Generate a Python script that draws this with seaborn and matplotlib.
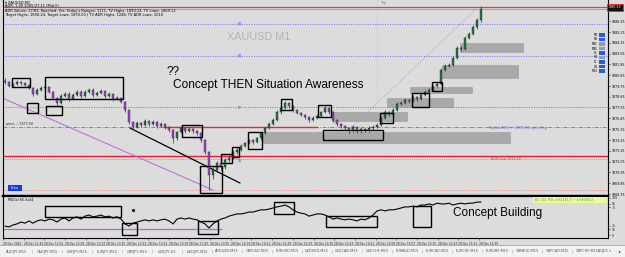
import numpy as np
import pandas as pd
import matplotlib
matplotlib.use("Agg")
import matplotlib.pyplot as plt
from matplotlib.patches import Rectangle
import seaborn as sns

# ---------------- data ----------------
opens = [1880.30, 1880.16, 1879.75, 1879.95, 1880.16, 1880.06, 1879.85, 1879.55, 1878.94, 1879.34,
         1879.55, 1879.65, 1879.14, 1878.53, 1878.02, 1878.73, 1878.94, 1878.43, 1878.83, 1879.14,
         1878.73, 1879.14, 1879.34, 1878.83, 1879.04, 1879.24, 1878.73, 1878.94, 1878.43, 1878.53,
         1878.12, 1877.31, 1876.08, 1875.57, 1875.98, 1875.78, 1876.19, 1875.88, 1876.08, 1875.68,
         1875.88, 1875.57, 1875.27, 1874.45, 1875.07, 1875.47, 1875.17, 1875.37, 1875.17, 1874.96,
         1874.25, 1873.03, 1870.69, 1871.19, 1871.91, 1871.50, 1872.21, 1872.42, 1873.03, 1873.23,
         1873.64, 1873.94, 1874.25, 1874.05, 1874.45, 1874.96, 1875.47, 1875.88, 1876.29, 1877.10,
         1877.51, 1878.02, 1877.71, 1877.31, 1877.00, 1876.80, 1876.59, 1876.29, 1876.49, 1876.70,
         1877.10, 1877.51, 1877.10, 1876.29, 1875.88, 1875.68, 1875.47, 1875.27, 1875.57, 1875.17,
         1875.37, 1875.27, 1875.47, 1875.57, 1875.78, 1876.49, 1877.10, 1876.90, 1877.31, 1877.92,
         1878.02, 1878.32, 1878.22, 1878.63, 1878.43, 1878.83, 1879.14, 1879.34, 1879.75, 1879.95,
         1881.38, 1881.79, 1881.89, 1882.60, 1883.62, 1883.52, 1884.64, 1885.05, 1885.76, 1886.47]
closes = [1880.16, 1879.75, 1879.95, 1880.16, 1880.06, 1879.85, 1879.55, 1878.94, 1879.34, 1879.55,
          1879.65, 1879.14, 1878.53, 1878.02, 1878.73, 1878.94, 1878.43, 1878.83, 1879.14, 1878.73,
          1879.14, 1879.34, 1878.83, 1879.04, 1879.24, 1878.73, 1878.94, 1878.43, 1878.53, 1878.12,
          1877.31, 1876.08, 1875.57, 1875.98, 1875.78, 1876.19, 1875.88, 1876.08, 1875.68, 1875.88,
          1875.57, 1875.27, 1874.45, 1875.07, 1875.47, 1875.17, 1875.37, 1875.17, 1874.96, 1874.25,
          1873.03, 1870.69, 1871.19, 1871.91, 1871.50, 1872.21, 1872.42, 1873.03, 1873.23, 1873.64,
          1873.94, 1874.25, 1874.05, 1874.45, 1874.96, 1875.47, 1875.88, 1876.29, 1877.10, 1877.51,
          1878.02, 1877.71, 1877.31, 1877.00, 1876.80, 1876.59, 1876.29, 1876.49, 1876.70, 1877.10,
          1877.51, 1877.10, 1876.29, 1875.88, 1875.68, 1875.47, 1875.27, 1875.57, 1875.17, 1875.37,
          1875.27, 1875.47, 1875.57, 1875.78, 1876.49, 1877.10, 1876.90, 1877.31, 1877.92, 1878.02,
          1878.32, 1878.22, 1878.63, 1878.43, 1878.83, 1879.14, 1879.34, 1879.75, 1879.95, 1881.38,
          1881.79, 1881.89, 1882.60, 1883.62, 1883.52, 1884.64, 1885.05, 1885.76, 1886.47, 1887.59]
highs = [1880.55, 1880.30, 1880.10, 1880.40, 1880.30, 1880.20, 1880.00, 1879.65, 1879.50, 1879.75,
         1879.85, 1879.80, 1879.25, 1878.65, 1878.90, 1879.15, 1879.10, 1879.00, 1879.35, 1879.30,
         1879.30, 1879.55, 1879.50, 1879.20, 1879.45, 1879.35, 1879.10, 1879.05, 1878.70, 1878.65,
         1878.20, 1877.40, 1876.20, 1876.15, 1876.10, 1876.40, 1876.30, 1876.25, 1876.20, 1876.05,
         1876.00, 1875.70, 1875.40, 1875.20, 1875.65, 1875.60, 1875.55, 1875.50, 1875.30, 1875.05,
         1874.35, 1873.10, 1871.60, 1872.10, 1872.10, 1872.40, 1872.70, 1873.20, 1873.45, 1873.80,
         1874.10, 1874.40, 1874.40, 1874.60, 1875.10, 1875.60, 1876.05, 1876.45, 1877.30, 1877.70,
         1878.20, 1878.15, 1877.85, 1877.45, 1877.15, 1876.95, 1876.70, 1876.65, 1876.85, 1877.25,
         1877.75, 1877.65, 1877.20, 1876.40, 1876.00, 1875.80, 1875.60, 1875.75, 1875.70, 1875.55,
         1875.50, 1875.65, 1875.75, 1875.95, 1876.70, 1877.30, 1877.25, 1877.50, 1878.10, 1878.25,
         1878.50, 1878.45, 1878.80, 1878.75, 1879.00, 1879.30, 1879.50, 1879.90, 1880.15, 1881.60,
         1881.95, 1882.05, 1882.80, 1883.80, 1883.80, 1884.80, 1885.25, 1885.95, 1886.70, 1887.85]
lows = [1879.95, 1879.60, 1879.60, 1879.85, 1879.90, 1879.70, 1879.40, 1878.70, 1878.80, 1879.20,
        1879.40, 1879.00, 1878.35, 1877.75, 1877.90, 1878.60, 1878.25, 1878.30, 1878.70, 1878.55,
        1878.60, 1879.00, 1878.65, 1878.70, 1878.90, 1878.55, 1878.60, 1878.25, 1878.30, 1878.00,
        1877.10, 1875.90, 1875.40, 1875.45, 1875.60, 1875.70, 1875.70, 1875.75, 1875.50, 1875.55,
        1875.40, 1875.05, 1873.95, 1874.30, 1874.95, 1875.00, 1875.05, 1875.00, 1874.80, 1874.05,
        1872.80, 1869.20, 1870.30, 1871.00, 1871.20, 1871.30, 1872.00, 1872.30, 1872.85, 1873.10,
        1873.50, 1873.80, 1873.85, 1873.90, 1874.30, 1874.85, 1875.35, 1875.75, 1876.15, 1876.95,
        1877.40, 1877.55, 1877.15, 1876.85, 1876.65, 1876.40, 1876.10, 1876.15, 1876.35, 1876.60,
        1877.00, 1876.95, 1876.10, 1875.70, 1875.50, 1875.30, 1875.00, 1875.10, 1874.95, 1875.00,
        1875.05, 1875.10, 1875.30, 1875.45, 1875.65, 1876.35, 1876.70, 1876.75, 1877.20, 1877.80,
        1877.90, 1878.05, 1878.10, 1878.25, 1878.30, 1878.70, 1879.00, 1879.20, 1879.60, 1879.85,
        1881.25, 1881.65, 1881.75, 1882.50, 1883.30, 1883.40, 1884.50, 1884.90, 1885.60, 1886.30]
oscillator = [24, 22, 27, 30, 35, 32, 38, 32, 38, 41,
              38, 43, 41, 35, 43, 46, 38, 46, 49, 43,
              51, 54, 49, 51, 54, 49, 51, 46, 49, 43,
              30, 24, 32, 35, 38, 41, 38, 41, 38, 41,
              43, 38, 30, 43, 46, 43, 46, 43, 41, 35,
              30, 19, 30, 38, 43, 46, 51, 54, 57, 57,
              59, 62, 62, 65, 68, 68, 70, 73, 76, 78,
              81, 76, 68, 62, 59, 57, 51, 54, 57, 57,
              54, 49, 43, 46, 43, 41, 43, 41, 38, 43,
              41, 46, 54, 65, 68, 65, 68, 68, 70, 73,
              76, 76, 78, 76, 81, 81, 84, 81, 86, 84,
              84, 86, 81, 84, 86, 84, 86, 86, 89, 89]

price_ticks = [1868.75, 1869.85, 1870.95, 1872.05, 1873.15, 1874.25, 1875.35, 1876.45, 1877.55,
               1878.65, 1879.75, 1880.85, 1881.95, 1883.05, 1884.15, 1885.25, 1886.35]
osc_ticks = [0, 15, 25, 75, 85, 100]
time_labels = ["28 Dec 2020", "28 Dec 12:43", "28 Dec 12:51", "28 Dec 12:59", "28 Dec 13:07",
               "28 Dec 13:15", "28 Dec 13:23", "28 Dec 13:31", "28 Dec 13:39", "28 Dec 13:47",
               "28 Dec 13:55", "28 Dec 14:03", "28 Dec 14:11", "28 Dec 14:19", "28 Dec 14:27",
               "28 Dec 14:35", "28 Dec 14:43", "28 Dec 14:51", "28 Dec 14:59", "28 Dec 15:07",
               "28 Dec 15:15", "28 Dec 15:23", "28 Dec 15:31", "28 Dec 15:39"]
tabs = ["AUDJPY,M15", "CADJPY,M15", "CHFJPY,M15", "EURJPY,M15", "GBPJPY,M15", "USDJPY,H1",
        "NZDJPY,M15", "AUDUSD,M15", "GBPUSD,M15", "EURUSD,M15", "NZDUSD,M15", "USDCAD,M15",
        "USDCHF,M15", "EURAUD,M15", "EURCAD,M15", "EURCHF,M15", "EURGBP,M15", "GBPAUD,M15",
        "GBPCAD,M15", "GBPCHF,M15"]
timeframes = ["M1", "M5", "M15", "M30", "H1", "H4", "D1", "W1", "MN1"]

# price levels
level_top = 1887.80
level_ask = 1887.59
level_r2 = 1886.06
level_r1 = 1882.81
level_pp = 1877.61
level_mid = 1875.57
level_s1 = 1872.62
level_adr_low = 1872.31
level_low = 1869.16
osc_level = 15

# zones (start idx, end idx, low, high)
zones = [(113.75, 129.5, 1883.21, 1884.13), (109.25, 128.25, 1880.57, 1881.89),
         (101.25, 116.75, 1879.04, 1879.65), (95.5, 112.0, 1877.61, 1878.53),
         (81.75, 100.5, 1876.19, 1877.10), (64.25, 126.25, 1873.94, 1875.07)]
boxes = [(1.75, 6.25, 1879.65, 1880.57), (5.5, 8.25, 1877.00, 1878.02), (10.0, 29.5, 1878.43, 1880.67),
         (10.25, 14.25, 1876.80, 1877.71), (44.25, 49.25, 1874.56, 1875.78), (48.75, 54.25, 1868.85, 1871.60),
         (54.0, 56.75, 1871.91, 1872.82), (56.75, 58.5, 1872.52, 1873.54), (60.75, 64.25, 1873.33, 1875.07),
         (69.0, 71.75, 1877.31, 1878.43), (78.25, 81.5, 1876.59, 1877.81), (79.5, 94.5, 1874.25, 1875.27),
         (93.75, 97.0, 1875.98, 1877.00), (101.75, 106.0, 1877.61, 1879.04), (106.75, 109.25, 1879.24, 1880.16)]
osc_boxes = [(10.0, 29.0, 48.6, 78.4), (29.25, 33.0, 0.0, 32.4), (48.25, 53.25, 2.7, 37.8),
             (67.25, 72.25, 56.8, 89.2), (80.25, 93.0, 21.6, 51.4), (102.0, 106.5, 21.6, 78.4)]

# ---------------- figure ----------------
sns.set_theme(style="white")
plt.rcParams['font.family'] = ['DejaVu Sans']
W, H = 625, 257
BG = "#dcdcdc"
fig = plt.figure(figsize=(W / 100, H / 100), dpi=100, facecolor=BG)


def frac(x0, y0, x1, y1):
    return [x0 / W, 1 - y1 / H, (x1 - x0) / W, (y1 - y0) / H]


def ptext(x, y, s, **kw):
    return fig.text(x / W, 1 - y / H, s, **kw)


ax = fig.add_axes(frac(3, 0, 608, 196))
axi = fig.add_axes(frac(3, 196, 608, 238), sharex=ax)
for a in (ax, axi):
    a.set_facecolor(BG)
    for s in a.spines.values():
        s.set_color("black")
        s.set_linewidth(0.8)

n = len(closes)
df = pd.DataFrame(dict(i=np.arange(n), o=opens, h=highs, l=lows, c=closes, osc=oscillator))
df["up"] = df.c >= df.o

# zones
for (i0, i1, p0, p1) in zones:
    ax.add_patch(Rectangle((i0, p0), i1 - i0, p1 - p0, fc="#a9a9a9", ec="#9c9c9c", lw=0.4, zorder=1))

# level lines
ax.axhline(level_top, color="#ff3030", lw=0.9, zorder=2)
ax.axhline(level_ask, color="#9aa6c0", lw=0.7, zorder=2)
ax.axhline(level_r2, color="#7070ff", lw=0.7, ls=(0, (1, 1.5)), zorder=2)
ax.axhline(level_r1, color="#7070ff", lw=0.7, ls=(0, (1, 1.5)), zorder=2)
ax.axhline(level_pp, color="#9c9c20", lw=0.8, ls=(0, (1, 1.2)), zorder=2)
ax.axhline(level_mid, color="#ff5050", lw=0.7, ls=(0, (4, 1.5, 1, 1.5)), zorder=2)
ax.hlines(level_mid, 39.5, 78.25, color="#ff2020", lw=1.0, zorder=2)
ax.axhline(level_s1, color="#e82030", lw=1.0, zorder=2)
ax.axhline(level_adr_low, color="#e08080", lw=0.7, ls=(0, (1, 1.2)), zorder=2)
ax.axhline(level_low, color="#e89090", lw=0.7, ls=(0, (1, 1.2)), zorder=2)

# diagonal lines
ax.plot([-1.25, 52.0], [1878.63, 1869.16], color="#c060e0", lw=0.7, zorder=2)
ax.plot([31.25, 58.75], [1875.47, 1869.87], color="black", lw=0.9, zorder=3)
ax.plot([86.75, 117.75], [1875.57, 1887.59], color="#98a0c8", lw=0.6, ls=(0, (1, 1.5)), zorder=2)
ax.plot([93, 93], [1888.5, 1878.3], color="#bcbcbc", lw=0.5, ls=(0, (1, 1.5)), zorder=1)
ax.scatter([86.75], [1875.57], s=3, fc="white", ec="#4060ff", lw=0.4, zorder=4)

# candles
green, purple = "#1e7a3e", "#a83ed8"
ax.vlines(df.i, df.l, df.h, color="#2a2a2a", lw=0.5, zorder=4)
ax.bar(df.i, (df.c - df.o).abs().clip(lower=0.03), bottom=np.minimum(df.o, df.c), width=0.62,
       color=np.where(df.up, green, purple), edgecolor="#1a1a1a", linewidth=0.25, zorder=5)

# boxes
for (i0, i1, p0, p1) in boxes:
    ax.add_patch(Rectangle((i0, p0), i1 - i0, p1 - p0, fill=False, ec="black", lw=1.0, zorder=6))

ax.set_xlim(-0.5, 150.75)
ax.set_ylim(1868.55, 1888.51)
ax.yaxis.tick_right()
ax.set_yticks(price_ticks)
ax.set_yticklabels([f"{v:.2f}" for v in price_ticks], fontsize=2.3)
ax.tick_params(axis="y", length=1.5, width=0.4, pad=1, colors="black")
ax.tick_params(axis="x", bottom=False, labelbottom=False)
ax.spines["top"].set_visible(False)
ax.spines["bottom"].set_linewidth(1.6)

# oscillator panel
sns.lineplot(data=df, x="i", y="osc", ax=axi, color="black", lw=0.8, zorder=3)
axi.hlines(osc_level, -1.25, 54.25, color="#c060e0", lw=0.9, zorder=2)
axi.scatter([32], [68], s=1.5, color="black", zorder=4)
for (i0, i1, v0, v1) in osc_boxes:
    axi.add_patch(Rectangle((i0, v0), i1 - i0, v1 - v0, fill=False, ec="black", lw=1.0, zorder=5))
axi.set_ylim(-8.1, 105.4)
axi.yaxis.tick_right()
axi.set_yticks(osc_ticks)
axi.set_yticklabels([str(v) for v in osc_ticks], fontsize=2.3)
axi.tick_params(axis="y", length=1.5, width=0.4, pad=1)
axi.set_ylabel("")
axi.set_xlabel("")
axi.spines["top"].set_linewidth(1.6)
tick_pos = [-0.5 + 5.175 * k for k in range(len(time_labels))]
axi.set_xticks(tick_pos)
axi.set_xticklabels(time_labels, fontsize=2.1, ha="left")
axi.tick_params(axis="x", length=1.5, width=0.4, pad=1.2, bottom=True)
axi.set_xlim(-0.5, 150.75)

# texts
ptext(5, 4, "\u25be XAUUSD,M1", fontsize=2.6, color="black", va="baseline")
ptext(5, 7.3, "ADR: 1.90 2005/27.11 (Mid 0)", fontsize=2.6, color="black", va="baseline")
ptext(5, 12, "ADR Values: 27/83, Reached: Yes, Today's Ranges: 1111, TV Highs: 1890.24, TV Lows: 1869.12",
      fontsize=2.6, color="black", va="baseline")
ptext(5, 16, "Target Highs: 1890.24, Target Lows: 1870.00 | TV ADR Highs: 1248, TV ADR Lows: 1010",
      fontsize=2.6, color="black", va="baseline")
ptext(259, 37, "XAUUSD M1", fontsize=7.8, color="#b4b4b4", ha="center", va="center",
      family=["Liberation Sans", "DejaVu Sans"])
ptext(167, 75, "??", fontsize=8.5, color="black", va="baseline", family=["Liberation Sans", "DejaVu Sans"])
ptext(173, 88, "Concept THEN Situation Awareness", fontsize=8.6, color="black", va="baseline",
      family=["Liberation Sans", "DejaVu Sans"])
ptext(453, 216, "Concept Building", fontsize=8.5, color="black", va="baseline",
      family=["Liberation Sans", "DejaVu Sans"])
for lbl, yy in (("R2", 24), ("R1", 56), ("PP", 108), ("S1", 161)):
    ptext(240, yy, lbl, fontsize=2.4, color="#5050d0", ha="center", va="center")
ptext(383, 3, "Trp", fontsize=2.4, color="#7070a0", ha="center", va="center")
ptext(6, 124, "prev(...) 1875.58", fontsize=2.3, color="#303030", va="center")
ptext(488, 128, "Tr-stab 60% \u2191: 1875.58, pdt Orig", fontsize=2.5, color="#8050d0", va="center")
ptext(491, 159, "ADR Low 1872.55", fontsize=2.4, color="#e04040", va="center")
ptext(8, 200, "MDI(x) 65.3x34", fontsize=2.3, color="black", va="center")

# Draw button
fig.add_artist(Rectangle((8 / W, 1 - 191 / H), 14 / W, 6 / H, transform=fig.transFigure,
                         fc="#1838f0", ec="none"))
ptext(15, 188, "Draw", fontsize=2.2, color="white", ha="center", va="center")

# timeframe buttons
blue_flags = [True, True, False, False, True, False, True, True, True]
for k, (tf, bl) in enumerate(zip(timeframes, blue_flags)):
    yy = 35 + 4.5 * k
    ptext(598, yy, tf, fontsize=2.0, color="black", ha="right", va="center")
    fig.add_artist(Rectangle((599 / W, 1 - (yy + 1.6) / H), 6 / W, 3.2 / H, transform=fig.transFigure,
                             fc="#2a5ce0" if bl else "#8c9cb8", ec="none"))

# current price tag
fig.add_artist(Rectangle((607 / W, 1 - 11 / H), 16 / W, 7 / H, transform=fig.transFigure,
                         fc="#111111", ec="#ff2020", lw=0.6))
ptext(615, 7.5, "1887.59", fontsize=2.2, color="white", ha="center", va="center")

# oscillator info label
fig.add_artist(Rectangle((533 / W, 1 - 202.5 / H), 74 / W, 5.5 / H, transform=fig.transFigure,
                         fc="#eef59a", ec="none", zorder=5))
ptext(535, 199.8, "EL: 1/3  R%: 3+1117.7 ~ 3+4035.3", fontsize=2.3, color="#40a040", va="center", zorder=6)

# tab bar
fig.add_artist(Rectangle((0, 0), 1, 11 / H, transform=fig.transFigure, fc="#f2f2f2", ec="none"))
fig.add_artist(Rectangle((0, 11 / H), 1, 0.6 / H, transform=fig.transFigure, fc="#b0b0b0", ec="none"))
for k, t in enumerate(tabs):
    ptext(17 + 30 * k, 251.5, t, fontsize=2.5, color="#555555", ha="center", va="center")
    ptext(32 + 30 * k, 251.5, "|", fontsize=2.8, color="#888888", ha="center", va="center")
ptext(604, 251.5, "AUDC \u25be", fontsize=2.5, color="#555555", ha="center", va="center")
ptext(620, 251.5, "\u25b8", fontsize=3, color="#333333", ha="center", va="center")

fig.savefig("out.png", dpi=100, facecolor=BG)
